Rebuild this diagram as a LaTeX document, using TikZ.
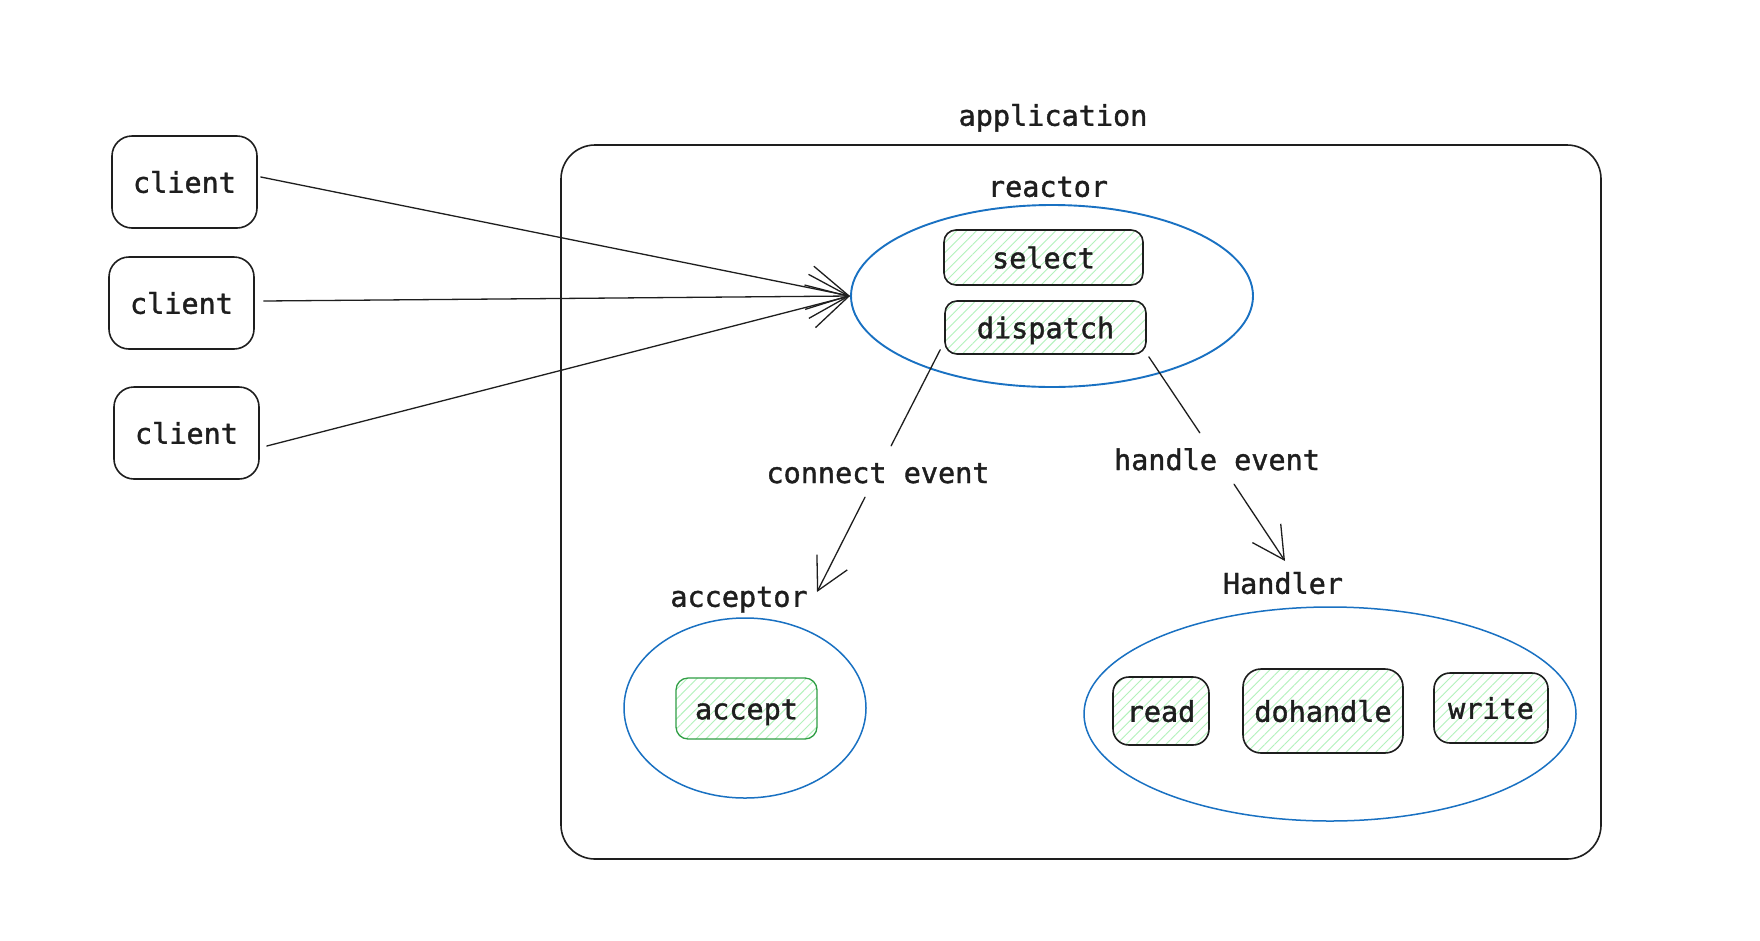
\documentclass[tikz,border=0pt]{standalone}
\usepackage{fontspec}
\newfontfamily\dmono[FakeBold=1.3]{DejaVu Sans Mono}
\usetikzlibrary{shapes.geometric,arrows.meta,patterns.meta}
\definecolor{ink}{HTML}{1E1E1E}
\definecolor{hatch}{HTML}{B2F2BB}
\definecolor{ringblue}{HTML}{1971C2}
\definecolor{accgreen}{HTML}{2F9E44}
\tikzset{
  lbl/.style={font=\dmono\fontsize{28.5}{32}\selectfont, text=ink, inner sep=0pt, text height=21.5pt, text depth=0pt},
  box/.style={draw=ink, line width=1.6pt, rounded corners=20pt, font=\dmono\fontsize{28.5}{32}\selectfont, text=ink, inner sep=0pt, text height=21.5pt, text depth=0pt},
  hbox/.style={box, rounded corners=12pt, preaction={fill=white},
     pattern={Lines[angle=45,distance=7pt,line width=0.9pt]}, pattern color=hatch},
  ring/.style={ellipse, draw=ringblue, line width=1.5pt, inner sep=0pt},
  conn/.style={draw=ink, line width=1.3pt, line cap=round},
  tip/.style={-{Straight Barb[length=32pt,width=34pt,line width=1.3pt]}},
  bigtip/.style={-{Straight Barb[length=40pt,width=44pt,line width=1.3pt]}},
  evlbl/.style={lbl, text height=24pt, text depth=1pt, inner xsep=4pt, inner ysep=13pt},
}
\begin{document}
\begin{tikzpicture}[x=1pt,y=-1pt]
\fill[white] (0,0) rectangle (1760,940);
\useasboundingbox (0,0) rectangle (1760,940);

% application container
\node[draw=ink, line width=1.6pt, rounded corners=34pt, minimum width=1040pt, minimum height=714pt, inner sep=0pt] (app) at (1081,502) {};
\node[lbl] (applbl) at (1053,115) {application};

% clients
\node[box, minimum width=145pt, minimum height=92pt] (c1) at (184.5,182) {client};
\node[box, minimum width=145pt, minimum height=92pt] (c2) at (181.5,303) {client};
\node[box, minimum width=145pt, minimum height=92pt] (c3) at (186.5,433) {client};

% reactor
\node[ring, line width=1.9pt, minimum width=402pt, minimum height=182pt] (reactor) at (1052,296) {};
\node[lbl] (reactorlbl) at (1048,186) {reactor};
\node[hbox, minimum width=199pt, minimum height=55pt] (select) at (1043.5,257.5) {select};
\node[hbox, minimum width=201pt, minimum height=53pt] (dispatch) at (1045.5,327.5) {dispatch};

% acceptor
\node[ring, minimum width=242pt, minimum height=180pt] (acceptor) at (745,708) {};
\node[lbl] (acceptorlbl) at (739,596) {acceptor};
\node[hbox, draw=accgreen, line width=1.3pt, minimum width=141pt, minimum height=61pt] (accept) at (746.5,708.5) {accept};

% handler
\node[ring, minimum width=492pt, minimum height=214pt] (handler) at (1330,714) {};
\node[lbl] (handlerlbl) at (1283,583) {Handler};
\node[hbox, rounded corners=16pt, minimum width=96pt, minimum height=68pt] (read) at (1161,711) {read};
\node[hbox, rounded corners=18pt, minimum width=160pt, minimum height=84pt] (dohandle) at (1323,711) {dohandle};
\node[hbox, rounded corners=16pt, minimum width=114pt, minimum height=70pt] (write) at (1491,708) {write};

% client arrows
\coordinate (s1) at ([shift={(3pt,5pt)}]c1.east);
\coordinate (s2) at ([shift={(9pt,2pt)}]c2.east);
\coordinate (s3) at ([shift={(7pt,-13pt)}]c3.east);
\draw[conn, bigtip] (s1) -- (reactor.west);
\draw[conn, bigtip] (s2) -- (reactor.west);
\draw[conn, bigtip] (s3) -- (reactor.west);

% connect event
\coordinate (cestart) at ([shift={(-4pt,5pt)}]dispatch.south west);
\coordinate (cetip) at (817,592);
\node[evlbl] (celbl) at (878,471.5) {connect event};
\draw[conn] (cestart) -- (celbl);
\draw[conn, tip] (celbl) -- (cetip);

% handle event
\coordinate (hestart) at ([shift={(2pt,-2pt)}]dispatch.south east);
\coordinate (hetip) at (1285,561);
\node[evlbl] (helbl) at (1217,458.5) {handle event};
\draw[conn] (hestart) -- (helbl);
\draw[conn, tip] (helbl) -- (hetip);
\end{tikzpicture}
\end{document}
